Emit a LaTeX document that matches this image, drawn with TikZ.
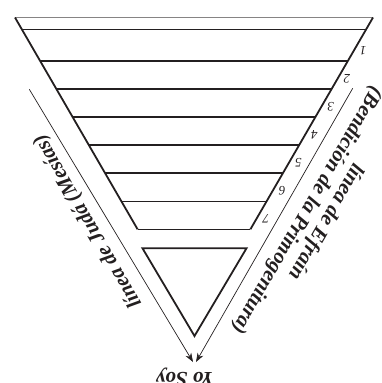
\documentclass[tikz,border=0pt]{standalone}
\usepackage{fontspec}
\setmainfont{Liberation Serif}
\usepackage{tikz}
\usetikzlibrary{arrows.meta,calc}
\definecolor{ink}{RGB}{35,31,32}

\begin{document}
\begin{tikzpicture}[x=1pt, y=-1pt, >={Stealth[length=9pt,width=6.5pt]},
    edge/.style={draw=ink, line width=1.8pt},
    rung/.style={draw=ink, line width=1.6pt},
    flow/.style={draw=ink, line width=0.7pt, ->},
    side/.style={text=ink, inner sep=0pt, font=\fontsize{21}{22}\selectfont\bfseries\itshape},
    num/.style={text=ink, inner sep=0pt, rotate=180, font=\fontsize{13}{13}\selectfont\itshape}]

  \useasboundingbox (0,0) rectangle (382,383);

  % Define coordinates for the outer triangle
  \coordinate (TL) at (15,17.5);
  \coordinate (TR) at (373,17.5);
  \coordinate (BL) at (137.6,229.3);
  \coordinate (BR) at (250.4,229.3);

  % Define coordinates for the small triangle
  \coordinate (VL) at (142.5,248.3);
  \coordinate (VR) at (246.5,248.3);
  \coordinate (VA) at (194.5,336);

  % Arrow ends
  \coordinate (JudaStart) at (29.3,89.3);
  \coordinate (JudaEnd) at (193,362);
  \coordinate (EfrainStart) at (352.7,88.3);
  \coordinate (EfrainEnd) at (196,362);

  % Draw the outer triangle
  \draw[draw=ink!55, line width=1.2pt] (TL) -- (TR);
  \draw[edge] (TL) -- (BL);
  \draw[edge] (TR) -- (BR);

  % Draw the rungs
  \foreach \y [count=\i] in {29.3,61,89,116.7,145,173,201.3,229.3} {
    \coordinate (l\i) at ($(TL)!{(\y-17.5)/211.8}!(BL)$);
    \coordinate (r\i) at ($(TR)!{(\y-17.5)/211.8}!(BR)$);
    \draw[rung] (l\i) -- (r\i);
  }

  % Draw the small triangle
  \draw[edge, line join=miter] (VL) -- (VR) -- (VA) -- cycle;

  % Numbers
  \foreach \i in {1,...,7} {
    \node[num] (n\i) at ({363-16.17*(\i-1)},{51+28*(\i-1)}) {\i};
  }

  % Draw arrows
  \draw[flow] (JudaStart) -- (JudaEnd);
  \draw[flow] (EfrainStart) -- (EfrainEnd);

  % Labels
  \node[side, rotate=120] (Juda) at (88,221) {línea de Judá (Mesías)};
  \node[side, rotate=240, align=center] (Efrain) at (316,216) {línea de Efraín\\(Bendición de la Primogenitura)};
  \node[side, rotate=180, anchor=base] (YoSoy) at (185,372) {Yo Soy};
\end{tikzpicture}
\end{document}
